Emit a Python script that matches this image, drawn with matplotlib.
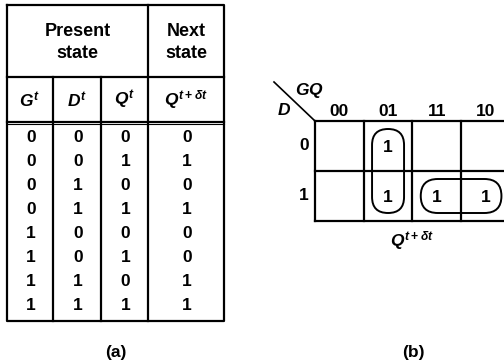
import matplotlib
matplotlib.use("Agg")
import matplotlib.pyplot as plt
from matplotlib.patches import FancyBboxPatch

plt.rcParams['font.family'] = ['Liberation Sans', 'DejaVu Sans']
plt.rcParams['mathtext.fontset'] = 'custom'
plt.rcParams['mathtext.it'] = 'Liberation Sans:italic:bold'
plt.rcParams['mathtext.rm'] = 'Liberation Sans:bold'

# truth table (a)
col_heads = [r'$G^t$', r'$D^t$', r'$Q^t$', r'$Q^{t+\delta t}$']
G = [0, 0, 0, 0, 1, 1, 1, 1]
D = [0, 0, 1, 1, 0, 0, 1, 1]
Q = [0, 1, 0, 1, 0, 1, 0, 1]
Qn = [0, 1, 0, 1, 0, 0, 1, 1]

# karnaugh map (b)
kmap_cols = ['00', '01', '11', '10']
kmap_rows = ['0', '1']
kmap_ones = [(0, 1), (1, 1), (1, 2), (1, 3)]   # (row, col)
loops = [((0, 1), (1, 1)), ((1, 2), (1, 3))]

fig = plt.figure(figsize=(5.04, 3.64), dpi=100)
ax = fig.add_axes([0, 0, 1, 1])
ax.set_xlim(0, 504)
ax.set_ylim(364, 0)
ax.axis('off')

lw = 1.6
# ---- table
xs = [7, 53, 101, 148, 224]
top, mid, hdr, bot = 5, 77, 122, 321
ax.plot([xs[0], xs[-1], xs[-1], xs[0], xs[0]], [top, top, bot, bot, top], color='k', lw=lw)
ax.plot([xs[0], xs[-1]], [mid, mid], color='k', lw=lw)
ax.plot([xs[0], xs[-1]], [hdr, hdr], color='k', lw=lw)
ax.plot([xs[0], xs[-1]], [hdr + 2, hdr + 2], color='k', lw=0.8)
ax.plot([xs[3], xs[3]], [top, bot], color='k', lw=lw)
for x in xs[1:3]:
    ax.plot([x, x], [mid, bot], color='k', lw=lw)

for lab, cx in [(('Present', 'state'), (xs[0] + xs[3]) / 2), (('Next', 'state'), (xs[3] + xs[4]) / 2)]:
    ax.text(cx, 32, lab[0], ha='center', va='center', fontsize=13, fontweight='bold')
    ax.text(cx, 54, lab[1], ha='center', va='center', fontsize=13, fontweight='bold')

centers = [(xs[i] + xs[i + 1]) / 2 for i in range(4)]
for c, h in zip(centers, col_heads):
    ax.text(c, 100, h, ha='center', va='center', fontsize=12.5)

row_y0, row_dy = 137, 24
for j, col in enumerate([G, D, Q, Qn]):
    for i, v in enumerate(col):
        ax.text(centers[j] + 1, row_y0 + i * row_dy, str(v), ha='center', va='center',
                fontsize=12.5, fontweight='bold')

ax.text(116, 352, '(a)', ha='center', va='center', fontsize=12.5, fontweight='bold')

# ---- K-map
kx0, ky0, cw, ch = 315, 121, 48.7, 50
nx, ny = len(kmap_cols), len(kmap_rows)
for i in range(nx + 1):
    ax.plot([kx0 + i * cw] * 2, [ky0, ky0 + ny * ch], color='k', lw=lw, clip_on=False)
for j in range(ny + 1):
    ax.plot([kx0, kx0 + nx * cw], [ky0 + j * ch] * 2, color='k', lw=lw, clip_on=False)
ax.plot([274, kx0], [82, ky0], color='k', lw=1.2)
ax.text(309, 90, r'$GQ$', ha='center', va='center', fontsize=12.5)
ax.text(284, 110, r'$D$', ha='center', va='center', fontsize=12.5)

for i, lab in enumerate(kmap_cols):
    ax.text(kx0 + (i + 0.5) * cw, 111, lab, ha='center', va='center', fontsize=12.5, fontweight='bold')
for j, lab in enumerate(kmap_rows):
    ax.text(304, ky0 + (j + 0.5) * ch, lab, ha='center', va='center', fontsize=12.5, fontweight='bold')

for r, c in kmap_ones:
    ax.text(kx0 + (c + 0.5) * cw, ky0 + (r + 0.5) * ch + 1, '1', ha='center', va='center',
            fontsize=12.5, fontweight='bold')

for (r1, c1), (r2, c2) in loops:
    x1 = kx0 + (c1 + 0.5) * cw - 16
    x2 = kx0 + (c2 + 0.5) * cw + 16
    y1 = ky0 + (r1 + 0.5) * ch - 17
    y2 = ky0 + (r2 + 0.5) * ch + 17
    rad = min(x2 - x1, y2 - y1) / 2
    ax.add_patch(FancyBboxPatch((x1, y1), x2 - x1, y2 - y1,
                                boxstyle='round,pad=0,rounding_size=%f' % rad,
                                fill=False, ec='k', lw=1.4, clip_on=False))

ax.text(412, 241, r'$Q^{t+\delta t}$', ha='center', va='center', fontsize=12.5)
ax.text(413, 352, '(b)', ha='center', va='center', fontsize=12.5, fontweight='bold')

fig.savefig('out.png', dpi=100)
